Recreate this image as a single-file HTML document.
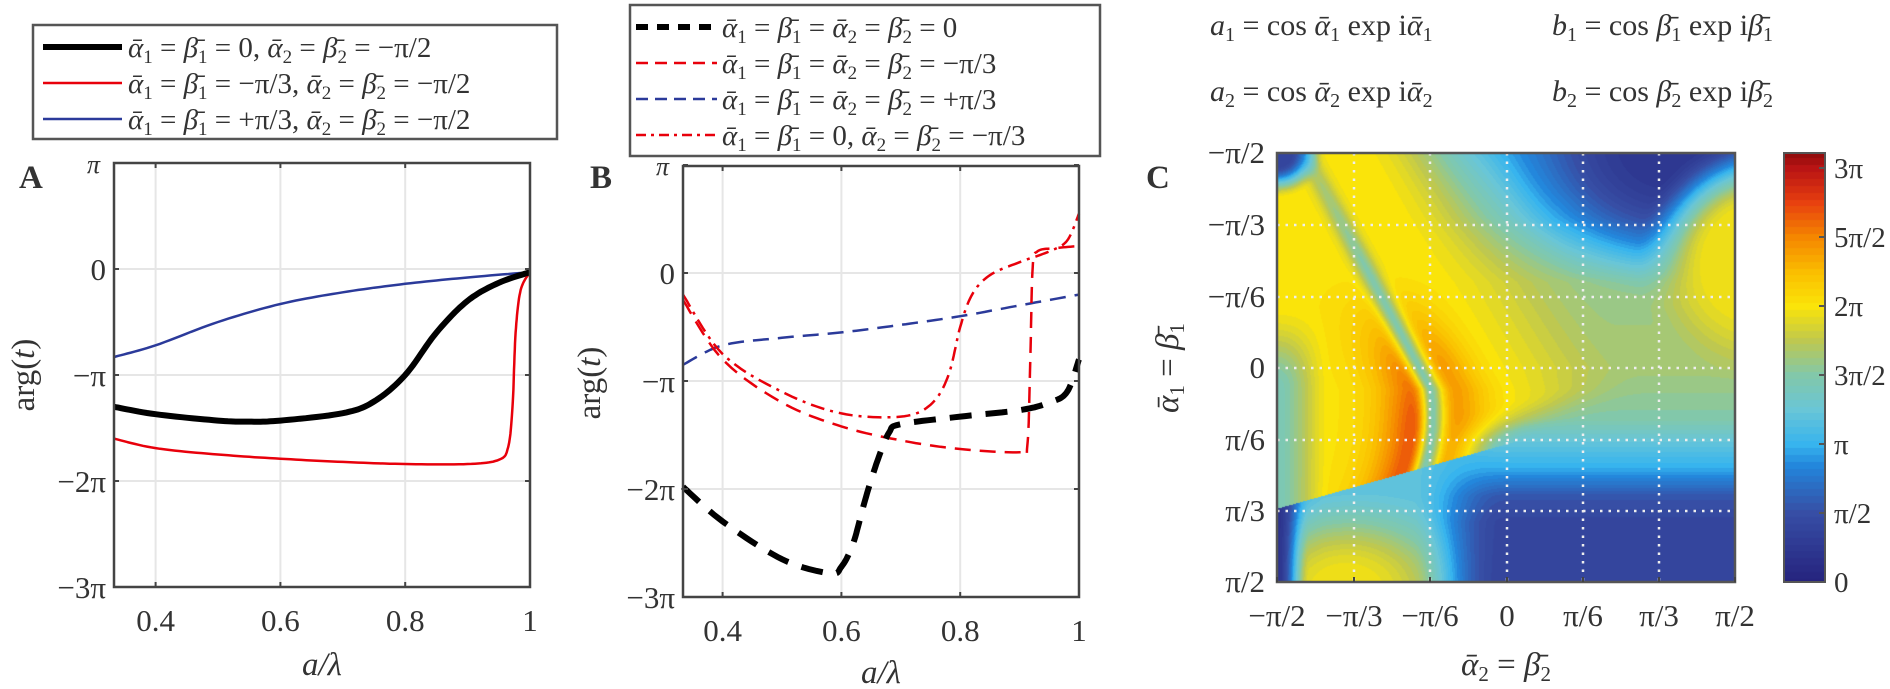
<!DOCTYPE html>
<html><head><meta charset="utf-8">
<style>
html,body{margin:0;padding:0;background:#fff;}
#wrap{position:relative;width:1890px;height:689px;overflow:hidden;}
svg{position:absolute;left:0;top:0;}
canvas{position:absolute;}
text{font-family:"Liberation Serif","DejaVu Serif",serif;fill:#333;}
.m{font-style:italic;}
</style></head>
<body><div id="wrap">
<canvas id="cm" width="458" height="429" style="left:1277px;top:153px;"></canvas>
<canvas id="cb" width="41" height="429" style="left:1784px;top:153px;"></canvas>
<svg id="s" width="1890" height="689" xmlns="http://www.w3.org/2000/svg" font-family="Liberation Serif, serif"></svg>
</div>
<script>
const S=document.getElementById('s');let h='';
function add(x){h+=x;}
function axis(L,R,T,B,y0,ppi,xticks,xl){
  for(const t of xticks){const x=xl(t);add(`<line x1="${x}" y1="${T}" x2="${x}" y2="${B}" stroke="#e6e6e6" stroke-width="2"/>`);}
  for(let p=0;p>=-2;p--){const y=y0-p*ppi;add(`<line x1="${L}" y1="${y}" x2="${R}" y2="${y}" stroke="#e6e6e6" stroke-width="2"/>`);}
}
function frame(L,R,T,B,y0,ppi,xticks,xl){
  add(`<rect x="${L}" y="${T}" width="${R-L}" height="${B-T}" fill="none" stroke="#444" stroke-width="2.5"/>`);
  for(const t of xticks){const x=xl(t);add(`<line x1="${x}" y1="${B}" x2="${x}" y2="${B-5}" stroke="#444" stroke-width="2"/><line x1="${x}" y1="${T}" x2="${x}" y2="${T+5}" stroke="#444" stroke-width="2"/>`);}
  for(let p=1;p>=-3;p--){const y=y0-p*ppi;add(`<line x1="${L}" y1="${y}" x2="${L+5}" y2="${y}" stroke="#444" stroke-width="2"/><line x1="${R}" y1="${y}" x2="${R-5}" y2="${y}" stroke="#444" stroke-width="2"/>`);}
  const labs={1:'π',0:'0','-1':'−π','-2':'−2π','-3':'−3π'};
  for(let p=1;p>=-3;p--){const y=y0-p*ppi;
    if(p==1) add(`<text x="${L-14}" y="${y+10}" font-size="26" text-anchor="end" class="m">π</text>`);
    else add(`<text x="${L-8}" y="${y+11}" font-size="31" text-anchor="end">${labs[p]}</text>`);}
  for(const t of xticks){add(`<text x="${xl(t)}" y="${B+44}" font-size="31" text-anchor="middle">${t==1?'1':t.toFixed(1)}</text>`);}
}
function interp(pts,n){
  let out=[];
  for(let i=0;i<pts.length-1;i++){
    const p0=pts[Math.max(i-1,0)],p1=pts[i],p2=pts[i+1],p3=pts[Math.min(i+2,pts.length-1)];
    for(let k=0;k<n;k++){const t=k/n,t2=t*t,t3=t2*t;
      const f=(a,b,c,d)=>0.5*((2*b)+(-a+c)*t+(2*a-5*b+4*c-d)*t2+(-a+3*b-3*c+d)*t3);
      out.push([f(p0[0],p1[0],p2[0],p3[0]),f(p0[1],p1[1],p2[1],p3[1])]);}
  }
  out.push(pts[pts.length-1]);return out;
}
function path(pts,xl,yl,style){
  const q=interp(pts,12);
  add(`<path d="M${q.map(p=>xl(p[0]).toFixed(1)+','+yl(p[1]).toFixed(1)).join(' L')}" fill="none" ${style}/>`);
}
{
const L=114,R=530,T=163,B=587,y0=269,ppi=106;
const xl=v=>L+(v-1/3)*1.5*(R-L), yl=p=>y0-p*ppi;
const xt=[0.4,0.6,0.8,1];
axis(L,R,T,B,y0,ppi,xt,xl);
path([[0.3333,-0.83],[0.4,-0.72],[0.5,-0.5],[0.6,-0.33],[0.7,-0.22],[0.8,-0.14],[0.9,-0.08],[1,-0.03]],xl,yl,'stroke="#2b3a9a" stroke-width="2.5"');
path([[0.3333,-1.6],[0.4,-1.69],[0.5,-1.75],[0.6,-1.79],[0.7,-1.82],[0.8,-1.84],[0.9,-1.84],[0.95,-1.8],[0.965,-1.68],[0.972,-1.3],[0.977,-0.6],[0.985,-0.2],[1,-0.03]],xl,yl,'stroke="#e8000b" stroke-width="2.5"');
path([[0.3333,-1.3],[0.4,-1.37],[0.5,-1.43],[0.55,-1.44],[0.6,-1.43],[0.7,-1.36],[0.75,-1.25],[0.8,-1.0],[0.85,-0.6],[0.9,-0.3],[0.95,-0.13],[1,-0.03]],xl,yl,'stroke="#000" stroke-width="6"');
frame(L,R,T,B,y0,ppi,xt,xl);
add(`<text x="322" y="675" font-size="33" class="m" text-anchor="middle">a/λ</text>`);
add(`<text transform="translate(34,375) rotate(-90)" font-size="33" text-anchor="middle">arg(<tspan class="m">t</tspan>)</text>`);
add(`<text x="19" y="188" font-size="33" font-weight="bold">A</text>`);
}
{
const L=683,R=1079,T=166,B=597,y0=273,ppi=108;
const xl=v=>L+(v-1/3)*1.5*(R-L), yl=p=>y0-p*ppi;
const xt=[0.4,0.6,0.8,1];
axis(L,R,T,B,y0,ppi,xt,xl);
path([[0.3333,-0.85],[0.4,-0.67],[0.5,-0.6],[0.6,-0.55],[0.7,-0.48],[0.8,-0.4],[0.9,-0.3],[1,-0.2]],xl,yl,'stroke="#2b3a9a" stroke-width="2.5" stroke-dasharray="16,9"');
path([[0.3333,-0.25],[0.4,-0.8],[0.5,-1.2],[0.6,-1.42],[0.7,-1.55],[0.8,-1.63],[0.9,-1.66],[0.913,-1.6],[0.918,-0.8],[0.922,0.05],[0.93,0.2],[0.96,0.23],[1,0.25]],xl,yl,'stroke="#e8000b" stroke-width="2.5" stroke-dasharray="16,9"');
path([[0.3333,-0.2],[0.4,-0.75],[0.5,-1.1],[0.6,-1.3],[0.7,-1.33],[0.75,-1.22],[0.78,-0.95],[0.8,-0.5],[0.82,-0.2],[0.85,-0.02],[0.9,0.1],[0.95,0.2],[0.98,0.3],[1,0.55]],xl,yl,'stroke="#e8000b" stroke-width="2.5" stroke-dasharray="14,6,3,6"');
path([[0.3333,-1.98],[0.4,-2.3],[0.5,-2.65],[0.58,-2.78],[0.6,-2.72],[0.62,-2.5],[0.64,-2.1],[0.66,-1.75],[0.68,-1.48],[0.7,-1.4],[0.8,-1.33],[0.9,-1.27],[0.95,-1.2],[0.98,-1.1],[1,-0.8]],xl,yl,'stroke="#000" stroke-width="6" stroke-dasharray="22,14"');
frame(L,R,T,B,y0,ppi,xt,xl);
add(`<text x="881" y="683" font-size="33" class="m" text-anchor="middle">a/λ</text>`);
add(`<text transform="translate(600,383) rotate(-90)" font-size="33" text-anchor="middle">arg(<tspan class="m">t</tspan>)</text>`);
add(`<text x="590" y="188" font-size="33" font-weight="bold">B</text>`);
}
add(`<rect x="33" y="25" width="524" height="114" fill="#fff" stroke="#555" stroke-width="2.5"/>`);
const lgA=[['#000',6,'0'],['#e8000b',2.5,'−π/3'],['#2b3a9a',2.5,'+π/3']];
lgA.forEach((r,i)=>{const y=47+i*36;
 add(`<line x1="43" y1="${y}" x2="122" y2="${y}" stroke="${r[0]}" stroke-width="${r[1]}"/>`);
 add(`<text x="128" y="${y+10}" font-size="29"><tspan class="m">ᾱ</tspan><tspan font-size="19" dy="6">1</tspan><tspan dy="-6"> = </tspan><tspan class="m">β̄</tspan><tspan font-size="19" dy="6">1</tspan><tspan dy="-6"> = ${r[2]}, </tspan><tspan class="m">ᾱ</tspan><tspan font-size="19" dy="6">2</tspan><tspan dy="-6"> = </tspan><tspan class="m">β̄</tspan><tspan font-size="19" dy="6">2</tspan><tspan dy="-6"> = −π/2</tspan></text>`);
});
add(`<rect x="630" y="5" width="470" height="151" fill="#fff" stroke="#555" stroke-width="2.5"/>`);
const lgB=[['#000',6,'12,9'],['#e8000b',2.5,'12,7'],['#2b3a9a',2.5,'12,7'],['#e8000b',2.5,'10,5,3,5']];
const ends=['0','−π/3','+π/3','−π/3'];
lgB.forEach((r,i)=>{const y=27+i*36;
 add(`<line x1="636" y1="${y}" x2="717" y2="${y}" stroke="${r[0]}" stroke-width="${r[1]}" stroke-dasharray="${r[2]}"/>`);
 const mid = i<3 ? `<tspan dy="-6"> = </tspan><tspan class="m">ᾱ</tspan><tspan font-size="19" dy="6">2</tspan><tspan dy="-6"> = </tspan><tspan class="m">β̄</tspan><tspan font-size="19" dy="6">2</tspan><tspan dy="-6"> = ${ends[i]}</tspan>`
   : `<tspan dy="-6"> = 0, </tspan><tspan class="m">ᾱ</tspan><tspan font-size="19" dy="6">2</tspan><tspan dy="-6"> = </tspan><tspan class="m">β̄</tspan><tspan font-size="19" dy="6">2</tspan><tspan dy="-6"> = −π/3</tspan>`;
 add(`<text x="722" y="${y+10}" font-size="29"><tspan class="m">ᾱ</tspan><tspan font-size="19" dy="6">1</tspan><tspan dy="-6"> = </tspan><tspan class="m">β̄</tspan><tspan font-size="19" dy="6">1</tspan>${mid}</text>`);
});
function form(x,y,v,g,n){add(`<text x="${x}" y="${y}" font-size="30"><tspan class="m">${v}</tspan><tspan font-size="20" dy="6">${n}</tspan><tspan dy="-6"> = cos </tspan><tspan class="m">${g}</tspan><tspan font-size="20" dy="6">${n}</tspan><tspan dy="-6"> exp i</tspan><tspan class="m">${g}</tspan><tspan font-size="20" dy="6">${n}</tspan></text>`);}
form(1210,35,'a','ᾱ',1);form(1552,35,'b','β̄',1);form(1210,101,'a','ᾱ',2);form(1552,101,'b','β̄',2);
{
const L=1277,R=1735,T=153,B=582;
const gx=[1354,1430,1507,1583,1659], gy=[225,297,368,440,511];
for(const x of gx) add(`<line x1="${x}" y1="${T}" x2="${x}" y2="${B}" stroke="#eee" stroke-width="2.5" stroke-dasharray="2.5,6"/>`);
for(const y of gy) add(`<line x1="${L}" y1="${y}" x2="${R}" y2="${y}" stroke="#eee" stroke-width="2.5" stroke-dasharray="2.5,6"/>`);
add(`<rect x="${L}" y="${T}" width="${R-L}" height="${B-T}" fill="none" stroke="#555" stroke-width="2.5"/>`);
const yl=['−π/2','−π/3','−π/6','0','π/6','π/3','π/2'];
const ys=[T,...gy,B];
ys.forEach((y,i)=>add(`<text x="1265" y="${y+10}" font-size="31" text-anchor="end">${yl[i]}</text>`));
const xs=[L,...gx,R];
xs.forEach((x,i)=>add(`<text x="${x}" y="${B+44}" font-size="31" text-anchor="middle">${yl[i]}</text>`));
xs.forEach(x=>add(`<line x1="${x}" y1="${B}" x2="${x}" y2="${B-5}" stroke="#444" stroke-width="2"/>`));
add(`<text x="1506" y="675" font-size="33" text-anchor="middle"><tspan class="m">ᾱ</tspan><tspan font-size="21" dy="6">2</tspan><tspan dy="-6"> = </tspan><tspan class="m">β̄</tspan><tspan font-size="21" dy="6">2</tspan></text>`);
add(`<text transform="translate(1178,368) rotate(-90)" font-size="33" text-anchor="middle"><tspan class="m">ᾱ</tspan><tspan font-size="21" dy="6">1</tspan><tspan dy="-6"> = </tspan><tspan class="m">β̄</tspan><tspan font-size="21" dy="6">1</tspan></text>`);
add(`<text x="1146" y="188" font-size="33" font-weight="bold">C</text>`);
add(`<rect x="1784" y="153" width="41" height="429" fill="none" stroke="#555" stroke-width="2"/>`);
const cl=['0','π/2','π','3π/2','2π','5π/2','3π'];
cl.forEach((s,i)=>{const y=582-i*69;add(`<line x1="1819" y1="${y}" x2="1825" y2="${y}" stroke="#555" stroke-width="2"/><text x="1834" y="${y+10}" font-size="29">${s}</text>`);});
}
S.innerHTML=h;
const stops=[[0,38,35,125],[0.5,55,78,165],[0.85,35,135,220],[1.0,55,180,238],[1.25,105,198,215],[1.5,130,200,170],[1.75,190,200,80],[2.0,250,228,10],[2.25,250,190,0],[2.5,245,135,0],[2.75,232,65,15],[3.0,185,20,20],[3.15,130,10,10]];
function col(v){if(v<=0)return stops[0].slice(1);for(let i=1;i<stops.length;i++){if(v<=stops[i][0]){const a=stops[i-1],b=stops[i],t=(v-a[0])/(b[0]-a[0]);return [a[1]+(b[1]-a[1])*t,a[2]+(b[2]-a[2])*t,a[3]+(b[3]-a[3])*t];}}return stops[stops.length-1].slice(1);}
const ss=(a,b,x)=>{let t=Math.min(1,Math.max(0,(x-a)/(b-a)));return t*t*(3-2*t);};
function pl(pts,x){if(x<=pts[0][0])return pts[0][1];for(let i=1;i<pts.length;i++)if(x<=pts[i][0]){const t=(x-pts[i-1][0])/(pts[i][0]-pts[i-1][0]);return pts[i-1][1]+(pts[i][1]-pts[i-1][1])*t;}return pts[pts.length-1][1];}
function field(X,Y){
  let R=pl([[0,1.0],[0.15,1.2],[0.3,1.6],[0.5,1.65],[0.62,1.5],[0.68,1.2],[0.74,0.95],[0.8,0.55],[0.86,0.4],[1,0.38]],Y);
  let d=Math.hypot((X-0.86)/1.1,Y+0.02)/0.24; if(d<1.6){const w=1-ss(0.3,1.6,d);R=R*(1-w)+0.25*w;}
  {const rr=Math.hypot((X-1.05)/0.9,(Y-0.25)/1.0); const w=1-ss(0.12,0.3,rr); R=R*(1-w)+1.95*w;}
  const c = Y<0.55 ? 0.06+0.5*Y : 0.335+0.15*(Y-0.55)-1.2*(Y-0.55)*(Y-0.55);
  const yEdge = 0.83-0.3*X;
  let v;
  if(Y<yEdge){
    const dx=X-c;
    let Lv=2.0;
    if(dx<0){
      const g=Math.exp(-Math.pow(dx/0.11,2))*ss(0.25,0.65,Y);
      Lv=2.0+0.85*g;
      const e=(1-ss(0.0,0.12,X))*ss(0.35,0.55,Y);
      Lv=Lv*(1-e)+1.45*e;
    }else{
      Lv=2.0+0.4*Math.exp(-Math.pow((dx-0.05)/0.07,2))*ss(0.25,0.5,Y);
    }
    const st=Math.exp(-Math.pow(dx/0.025,2))*(0.6+0.4*ss(0,0.3,Y));
    Lv=Lv*(1-st)+1.5*st;
    const w=ss(c+0.12,c+0.48,X);
    v=Lv*(1-w)+R*w;
    // soften near the edge right of X~0.4
    const ew=ss(0.35,0.55,X)*ss(yEdge-0.1,yEdge,Y);
    v=v*(1-ew)+R*ew;
  } else {
    let Bv=pl([[0,0.9],[0.1,1.15],[0.3,1.2],[0.45,1.0]],X);
    const dd=Math.hypot((X-0.15)/1.3,Y-1.02)/0.2;
    if(dd<1.3){const w=1-ss(0.2,1.3,dd);Bv=Bv*(1-w)+1.95*w;}
    const le=1-ss(0.0,0.07,X);Bv=Bv*(1-le)+0.2*le;
    const w=ss(0.3,0.5,X);
    v=Bv*(1-w)+R*w;
  }
  const tl=Math.hypot(X,Y)/0.07; if(tl<1.5){const w=1-ss(0.4,1.5,tl);v=v*(1-w)+0.4*w;}
  return v;
}
const cv=document.getElementById('cm'),cx=cv.getContext('2d');
const W=cv.width,H=cv.height,img=cx.createImageData(W,H);
for(let j=0;j<H;j++)for(let i=0;i<W;i++){
  let v=field(i/(W-1),j/(H-1)); v=Math.round(v/0.05)*0.05;
  const c=col(v),k=(j*W+i)*4;img.data[k]=c[0];img.data[k+1]=c[1];img.data[k+2]=c[2];img.data[k+3]=255;}
cx.putImageData(img,0,0);
const cb=document.getElementById('cb'),bx=cb.getContext('2d');
for(let j=0;j<429;j++){const vv=(429-j)/138;const c=col(Math.round(vv/0.05)*0.05);bx.fillStyle=`rgb(${c[0]|0},${c[1]|0},${c[2]|0})`;bx.fillRect(0,j,41,1);}
</script>
</body></html>
